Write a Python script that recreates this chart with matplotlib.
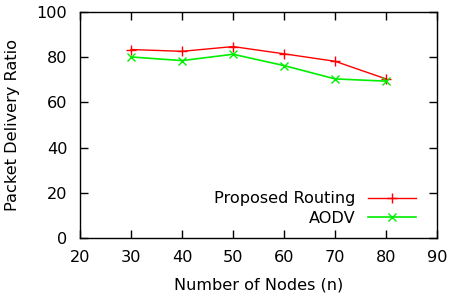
import matplotlib.pyplot as plt

nodes = [30, 40, 50, 60, 70, 80]
proposed = [83.4, 82.6, 84.7, 81.5, 78.2, 70.4]
aodv = [80.1, 78.5, 81.3, 76.3, 70.4, 69.4]

plt.rcParams['font.family'] = 'DejaVu Sans'
plt.rcParams['font.size'] = 11.6

fig = plt.figure(figsize=(4.54, 3.0), dpi=100)
ax = fig.add_axes([80/454, 1 - 238/300, (437 - 80)/454, (238 - 12)/300])

ax.plot(nodes, proposed, color="red", marker="+", markersize=7, linewidth=1, label="Proposed Routing")
ax.plot(nodes, aodv, color="#00ee00", marker="x", markersize=5.5, linewidth=1.2, label="AODV")

ax.set_xlim(20, 90)
ax.set_ylim(0, 100)
ax.set_xticks(range(20, 91, 10))
ax.set_yticks(range(0, 101, 20))
ax.tick_params(direction="in", top=True, right=True, length=6, width=1)
ax.tick_params(axis="x", pad=9)
ax.tick_params(axis="y", pad=9)
for s in ax.spines.values():
    s.set_linewidth(1)

ax.set_xlabel("Number of Nodes (n)", labelpad=9)
ax.set_ylabel("Packet Delivery Ratio", labelpad=12)

ax.legend(loc="lower right", bbox_to_anchor=(1, -0.04), frameon=False, markerfirst=False,
          handlelength=3.0, borderaxespad=0.9, labelspacing=0.3, handletextpad=0.75)

fig.savefig("out.png", dpi=100)
